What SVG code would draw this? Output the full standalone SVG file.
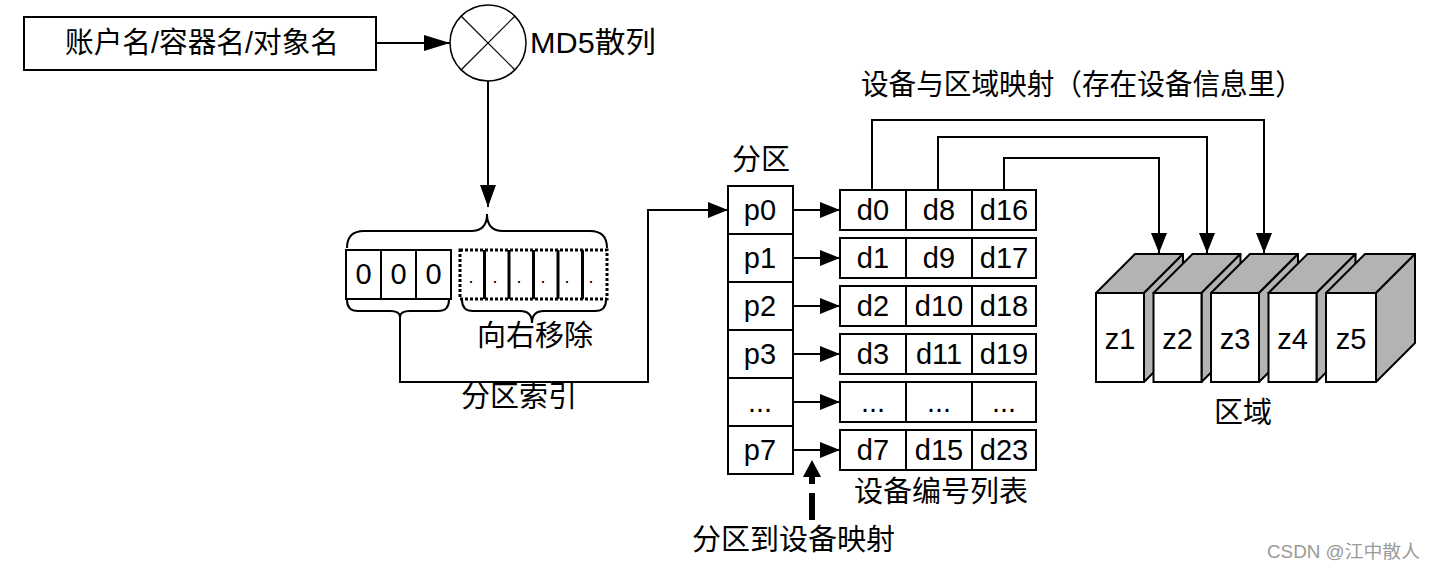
<svg xmlns="http://www.w3.org/2000/svg" width="1434" height="572" viewBox="0 0 1434 572">
<style>
.ln{fill:none;stroke:#000;stroke-width:2}
.box{fill:#fff;stroke:#000;stroke-width:2}
.gray{fill:#b3b3b3;stroke:#000;stroke-width:2;stroke-linejoin:round}
.lat{font-family:"Liberation Sans",Arial,sans-serif;font-size:29px;fill:#000;text-anchor:middle;dominant-baseline:central}
.cjk{font-family:"Liberation Sans","Noto Sans CJK SC",sans-serif;font-size:29px;fill:#000;dominant-baseline:central}
.dot{font-family:"Liberation Sans",Arial,sans-serif;font-size:18px;fill:#000;text-anchor:middle}
</style>
<defs>
<marker id="ah" viewBox="0 0 20 16" refX="20" refY="8" markerWidth="20" markerHeight="16" markerUnits="userSpaceOnUse" orient="auto"><path d="M0,0 L20,8 L0,16 Z" fill="#000"/></marker>
<marker id="ahL" viewBox="0 0 26 16" refX="26" refY="8" markerWidth="26" markerHeight="16" markerUnits="userSpaceOnUse" orient="auto"><path d="M0,0 L26,8 L0,16 Z" fill="#000"/></marker>
<marker id="ahD" viewBox="0 0 22 16" refX="22" refY="8" markerWidth="22" markerHeight="16" markerUnits="userSpaceOnUse" orient="auto"><path d="M0,0 L22,8 L0,16 Z" fill="#000"/></marker>
</defs>
<rect width="1434" height="572" fill="#fff"/>

<g id="source">
<rect class="box" x="24" y="17" width="352" height="53"/>
<text class="cjk" x="65" y="43" textLength="274" lengthAdjust="spacingAndGlyphs">账户名/容器名/对象名</text>
</g>

<g id="md5">
<circle cx="488" cy="43" r="38" fill="#fff" stroke="#000" stroke-width="1.5"/>
<line x1="461" y1="16" x2="515" y2="70" stroke="#000" stroke-width="1.2"/>
<line x1="515" y1="16" x2="461" y2="70" stroke="#000" stroke-width="1.2"/>
<text class="cjk" x="530" y="43" textLength="126" lengthAdjust="spacingAndGlyphs">MD5散列</text>
</g>

<g id="hash-bits">
<path class="ln" d="M347,248 Q347,231 364,231 L471,231 Q487,231 487,214 Q487,231 503,231 L590,231 Q607,231 607,248"/>
<rect class="box" x="346" y="250" width="105" height="49"/>
<line class="ln" x1="381" y1="250" x2="381" y2="299"/>
<line class="ln" x1="416" y1="250" x2="416" y2="299"/>
<text class="lat" x="363.5" y="274">0</text>
<text class="lat" x="398.5" y="274">0</text>
<text class="lat" x="433.5" y="274">0</text>
<rect x="460" y="250" width="147" height="49" fill="#fff" stroke="#000" stroke-width="3" stroke-dasharray="3,2"/>
<g stroke="#000" stroke-width="3">
<line x1="484.5" y1="250" x2="484.5" y2="299"/>
<line x1="509" y1="250" x2="509" y2="299"/>
<line x1="533.5" y1="250" x2="533.5" y2="299"/>
<line x1="558" y1="250" x2="558" y2="299"/>
<line x1="582.5" y1="250" x2="582.5" y2="299"/>
</g>
<text class="dot" x="471" y="283">.</text>
<text class="dot" x="495" y="283">.</text>
<text class="dot" x="519" y="283">.</text>
<text class="dot" x="543" y="283">.</text>
<text class="dot" x="567" y="283">.</text>
<text class="dot" x="591" y="283">.</text>
<path class="ln" d="M347,300 Q347,311 358,311 L390,311 Q400,311 400,317 Q400,311 410,311 L438,311 Q449,311 449,300"/>
<path class="ln" d="M462,300 Q462,311 473,311 L520,311 Q532,311 532,323 Q532,311 544,311 L595,311 Q606,311 606,300"/>
<text class="cjk" x="477" y="336">向右移除</text>
<text class="cjk" x="461" y="397">分区索引</text>
</g>

<g id="partitions">
<text class="cjk" x="732" y="160">分区</text>
<rect class="box" x="728" y="186" width="65" height="48"/>
<rect class="box" x="728" y="234" width="65" height="48"/>
<rect class="box" x="728" y="282" width="65" height="48"/>
<rect class="box" x="728" y="330" width="65" height="48"/>
<rect class="box" x="728" y="378" width="65" height="48"/>
<rect class="box" x="728" y="426" width="65" height="48"/>
<text class="lat" x="760" y="210">p0</text>
<text class="lat" x="760" y="258">p1</text>
<text class="lat" x="760" y="306">p2</text>
<text class="lat" x="760" y="354">p3</text>
<text class="lat" x="760" y="402">...</text>
<text class="lat" x="760" y="450">p7</text>
</g>

<g id="devices">
<rect class="box" x="840" y="190" width="196" height="40"/>
<rect class="box" x="840" y="238" width="196" height="40"/>
<rect class="box" x="840" y="286" width="196" height="40"/>
<rect class="box" x="840" y="334" width="196" height="40"/>
<rect class="box" x="840" y="382" width="196" height="40"/>
<rect class="box" x="840" y="430" width="196" height="40"/>
<g stroke="#000" stroke-width="2">
<line x1="906" y1="190" x2="906" y2="230"/><line x1="972" y1="190" x2="972" y2="230"/>
<line x1="906" y1="238" x2="906" y2="278"/><line x1="972" y1="238" x2="972" y2="278"/>
<line x1="906" y1="286" x2="906" y2="326"/><line x1="972" y1="286" x2="972" y2="326"/>
<line x1="906" y1="334" x2="906" y2="374"/><line x1="972" y1="334" x2="972" y2="374"/>
<line x1="906" y1="382" x2="906" y2="422"/><line x1="972" y1="382" x2="972" y2="422"/>
<line x1="906" y1="430" x2="906" y2="470"/><line x1="972" y1="430" x2="972" y2="470"/>
</g>
<text class="lat" x="873" y="210">d0</text><text class="lat" x="939" y="210">d8</text><text class="lat" x="1004" y="210">d16</text>
<text class="lat" x="873" y="258">d1</text><text class="lat" x="939" y="258">d9</text><text class="lat" x="1004" y="258">d17</text>
<text class="lat" x="873" y="306">d2</text><text class="lat" x="939" y="306">d10</text><text class="lat" x="1004" y="306">d18</text>
<text class="lat" x="873" y="354">d3</text><text class="lat" x="939" y="354">d11</text><text class="lat" x="1004" y="354">d19</text>
<text class="lat" x="873" y="402">...</text><text class="lat" x="939" y="402">...</text><text class="lat" x="1004" y="402">...</text>
<text class="lat" x="873" y="450">d7</text><text class="lat" x="939" y="450">d15</text><text class="lat" x="1004" y="450">d23</text>
<text class="cjk" x="854" y="492">设备编号列表</text>
</g>

<g id="zones">
<g id="z1">
<polygon class="gray" points="1096,293 1135,254 1183,254 1144,293"/>
<polygon class="gray" points="1144,293 1183,254 1183,343 1144,382"/>
<rect class="box" x="1096" y="293" width="48" height="89"/>
<text class="lat" x="1120" y="339">z1</text>
</g>
<g id="z2">
<polygon class="gray" points="1153.5,293 1192.5,254 1240.5,254 1201.5,293"/>
<polygon class="gray" points="1201.5,293 1240.5,254 1240.5,343 1201.5,382"/>
<rect class="box" x="1153.5" y="293" width="48" height="89"/>
<text class="lat" x="1177.5" y="339">z2</text>
</g>
<g id="z3">
<polygon class="gray" points="1211,293 1250,254 1298,254 1259,293"/>
<polygon class="gray" points="1259,293 1298,254 1298,343 1259,382"/>
<rect class="box" x="1211" y="293" width="48" height="89"/>
<text class="lat" x="1235" y="339">z3</text>
</g>
<g id="z4">
<polygon class="gray" points="1268.5,293 1307.5,254 1355.5,254 1316.5,293"/>
<polygon class="gray" points="1316.5,293 1355.5,254 1355.5,343 1316.5,382"/>
<rect class="box" x="1268.5" y="293" width="48" height="89"/>
<text class="lat" x="1292.5" y="339">z4</text>
</g>
<g id="z5">
<polygon class="gray" points="1326,293 1365,254 1415,254 1376,293"/>
<polygon class="gray" points="1376,293 1415,254 1415,343 1376,382"/>
<rect class="box" x="1326" y="293" width="50" height="89"/>
<text class="lat" x="1351" y="339">z5</text>
</g>
<text class="cjk" x="1214" y="413">区域</text>
</g>

<g id="labels">
<text class="cjk" x="861" y="85" textLength="442" lengthAdjust="spacingAndGlyphs">设备与区域映射（存在设备信息里）</text>
<text class="cjk" x="692" y="540">分区到设备映射</text>
</g>

<g id="connectors">
<line class="ln" x1="376" y1="43" x2="450" y2="43" marker-end="url(#ahL)"/>
<line class="ln" x1="488" y1="81" x2="488" y2="207" marker-end="url(#ahD)"/>
<polyline class="ln" points="400,317 400,382 648,382 648,210 728,210" marker-end="url(#ah)"/>
<line class="ln" x1="793" y1="210" x2="840" y2="210" marker-end="url(#ah)"/>
<line class="ln" x1="793" y1="258" x2="840" y2="258" marker-end="url(#ah)"/>
<line class="ln" x1="793" y1="306" x2="840" y2="306" marker-end="url(#ah)"/>
<line class="ln" x1="793" y1="354" x2="840" y2="354" marker-end="url(#ah)"/>
<line class="ln" x1="793" y1="402" x2="840" y2="402" marker-end="url(#ah)"/>
<line class="ln" x1="793" y1="450" x2="840" y2="450" marker-end="url(#ah)"/>
<polyline class="ln" points="872,190 872,120 1264,120 1264,253" marker-end="url(#ah)"/>
<polyline class="ln" points="938,190 938,137 1207,137 1207,253" marker-end="url(#ah)"/>
<polyline class="ln" points="1004,190 1004,158 1159,158 1159,253" marker-end="url(#ah)"/>
<g fill="#000">
<polygon points="812,460 803,477 821,477"/>
<rect x="809" y="476" width="6" height="8"/>
<rect x="809" y="493" width="6" height="27"/>
</g>
</g>

<text x="1267" y="552" font-family="Liberation Sans,'Noto Sans CJK SC',sans-serif" font-size="18" fill="#9a9a9a" dominant-baseline="central" textLength="153" lengthAdjust="spacingAndGlyphs">CSDN @江中散人</text>
</svg>
